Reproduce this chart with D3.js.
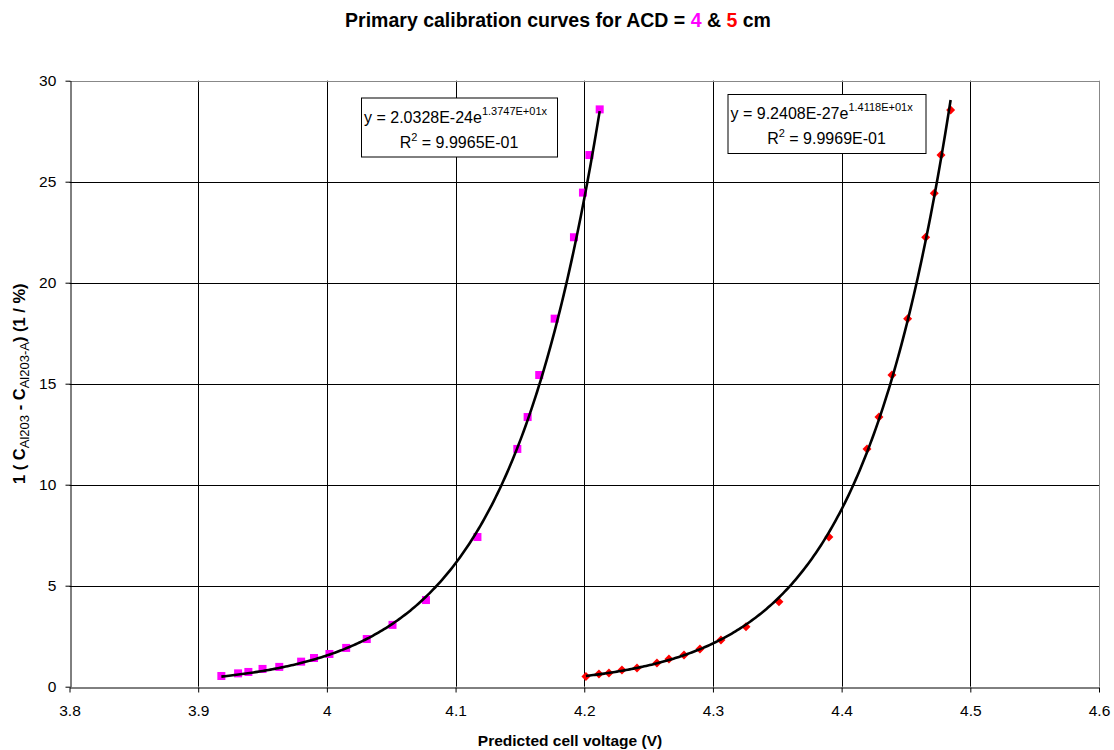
<!DOCTYPE html>
<html>
<head>
<meta charset="utf-8">
<script src="https://cdn.jsdelivr.net/npm/d3@7"></script>
<style>
  body { margin: 0; background: #fff; }
  svg { display: block; font-family: "Liberation Sans", Arial, sans-serif; }
</style>
</head>
<body>
<svg id="chart" width="1114" height="750"></svg>
<script>
// ---- Data ----
const acd4X = [3.918, 3.931, 3.939, 3.950, 3.963, 3.980, 3.990, 4.002, 4.015, 4.031, 4.051, 4.077, 4.117, 4.148, 4.156, 4.165, 4.177, 4.192, 4.199, 4.204, 4.212];
const acd4Y = [0.53, 0.66, 0.73, 0.88, 0.98, 1.24, 1.42, 1.62, 1.92, 2.36, 3.06, 4.29, 7.41, 11.77, 13.35, 15.43, 18.22, 22.25, 24.46, 26.32, 28.58];
const acd5X = [4.2013, 4.2114, 4.2192, 4.2293, 4.2410, 4.2565, 4.2658, 4.2775, 4.2899, 4.3062, 4.3257, 4.3513, 4.3901, 4.4197, 4.4290, 4.4391, 4.4513, 4.4653, 4.4720, 4.4772, 4.4847];
const acd5Y = [0.50, 0.63, 0.68, 0.83, 0.92, 1.17, 1.37, 1.57, 1.87, 2.31, 2.97, 4.21, 7.41, 11.77, 13.35, 15.43, 18.22, 22.25, 24.43, 26.32, 28.55];
// exponential trendline coefficients shown in the chart: y = a * e^(b x)
const fitA = [2.0328e-24, 9.2408e-27];
const fitB = [13.747, 14.118];
const fitEqBase = ["y = 2.0328E-24e", "y = 9.2408E-27e"];
const fitEqExp = ["1.3747E+01x", "1.4118E+01x"];
const fitR2 = ["9.9965E-01", "9.9969E-01"];
const xTicks = [3.8, 3.9, 4.0, 4.1, 4.2, 4.3, 4.4, 4.5, 4.6];
const yTicks = [0, 5, 10, 15, 20, 25, 30];

(function () {
// ---- Layout ----
const svg = d3.select("#chart");
const pL = 69.5, pR = 1099, pT = 80.7, pB = 686.7;
const x = d3.scaleLinear().domain([3.8, 4.6]).range([pL, pR]);
const y = d3.scaleLinear().domain([0, 30]).range([pB, pT]);

// gridlines
const grid = svg.append("g");
grid.selectAll("line.vg").data(xTicks.slice(1)).join("line")
  .attr("x1", d => Math.round(x(d)) + 0.5).attr("x2", d => Math.round(x(d)) + 0.5)
  .attr("y1", pT).attr("y2", pB)
  .attr("stroke", (d, i, n) => i === n.length - 1 ? "#888" : "#000").attr("stroke-width", 1);
grid.selectAll("line.hg").data(yTicks.slice(1)).join("line")
  .attr("y1", d => Math.round(y(d)) + 0.5).attr("y2", d => Math.round(y(d)) + 0.5)
  .attr("x1", pL).attr("x2", pR)
  .attr("stroke", (d, i, n) => i === n.length - 1 ? "#888" : "#000").attr("stroke-width", 1);

// axes
const fmtX = d => d3.format("~g")(d);
const xAxis = d3.axisBottom(x).tickValues(xTicks).tickFormat(fmtX).tickSize(5).tickSizeOuter(0);
const yAxis = d3.axisLeft(y).tickValues(yTicks).tickSize(5).tickSizeOuter(0);
const gx = svg.append("g").attr("transform", `translate(0,${Math.round(pB) + 0.5})`).call(xAxis);
const gy = svg.append("g").attr("transform", `translate(${Math.round(pL) + 0.5},0)`).call(yAxis);
[gx, gy].forEach(g => {
  g.select(".domain").attr("stroke", "#000");
  g.selectAll(".tick line").attr("stroke", "#000");
  g.selectAll("text").attr("font-size", 15.5).attr("fill", "#000")
    .attr("font-family", "'Liberation Sans Narrow', 'Liberation Sans', Arial, sans-serif");
});
gx.selectAll("text").attr("dy", "1.3em");
gy.selectAll("text").attr("dx", "-0.4em");

// markers
const pts4 = acd4X.map((v, i) => [v, acd4Y[i]]);
const pts5 = acd5X.map((v, i) => [v, acd5Y[i]]);
svg.append("g").selectAll("rect").data(pts4).join("rect")
  .attr("x", d => x(d[0]) - 4).attr("y", d => y(d[1]) - 4)
  .attr("width", 8).attr("height", 8).attr("fill", "#ff00ff");
svg.append("g").selectAll("path").data(pts5).join("path")
  .attr("transform", d => `translate(${x(d[0])},${y(d[1])})`)
  .attr("d", "M0,-4.5L4.5,0L0,4.5L-4.5,0Z").attr("fill", "#ff0000");

// trendlines
const xs = [acd4X, acd5X];
xs.forEach((arr, k) => {
  const x0 = d3.min(arr), x1 = d3.max(arr);
  const samples = d3.range(0, 201).map(i => x0 + (x1 - x0) * i / 200);
  const line = d3.line().x(d => x(d)).y(d => y(fitA[k] * Math.exp(fitB[k] * d)));
  svg.append("path").datum(samples).attr("d", line)
    .attr("fill", "none").attr("stroke", "#000").attr("stroke-width", 2.6);
});

// equation boxes
const boxes = [{x: 361, y: 97.5, w: 196, h: 59}, {x: 727.5, y: 94, w: 198, h: 59}];
boxes.forEach((b, k) => {
  const g = svg.append("g");
  g.append("rect").attr("x", b.x + 0.5).attr("y", b.y + 0.5).attr("width", b.w).attr("height", b.h)
    .attr("fill", "#fff").attr("stroke", "#000").attr("stroke-width", 1);
  const t1 = g.append("text").attr("x", b.x + 3).attr("y", b.y + 25).attr("font-size", 16).attr("fill", "#000");
  t1.append("tspan").text(fitEqBase[k]);
  t1.append("tspan").attr("dy", -8).attr("font-size", 11).text(fitEqExp[k]);
  const t2 = g.append("text").attr("x", b.x + b.w / 2).attr("y", b.y + 50).attr("font-size", 16)
    .attr("text-anchor", "middle").attr("fill", "#000");
  t2.append("tspan").text("R");
  t2.append("tspan").attr("dy", -7).attr("font-size", 11).text("2");
  t2.append("tspan").attr("dy", 7).text(" = " + fitR2[k]);
});

// title
const title = svg.append("text").attr("x", 558).attr("y", 27).attr("text-anchor", "middle")
  .attr("font-size", 19.5).attr("font-weight", "bold").attr("fill", "#000");
title.append("tspan").text("Primary calibration curves for ACD = ");
title.append("tspan").attr("fill", "#ff00ff").text("4");
title.append("tspan").text(" & ");
title.append("tspan").attr("fill", "#ff0000").text("5");
title.append("tspan").text(" cm");

// axis titles
svg.append("text").attr("x", 570).attr("y", 746).attr("text-anchor", "middle")
  .attr("font-size", 15.5).attr("font-weight", "bold").attr("fill", "#000")
  .text("Predicted cell voltage (V)");
const yt = svg.append("text").attr("transform", `translate(25,${(pT + pB) / 2}) rotate(-90)`)
  .attr("text-anchor", "middle").attr("font-size", 16.5).attr("font-weight", "bold").attr("fill", "#000");
yt.append("tspan").text("1 ( C");
yt.append("tspan").attr("dy", 4).attr("font-size", 13).attr("font-weight", "normal").text("Al203");
yt.append("tspan").attr("dy", -4).text(" - C");
yt.append("tspan").attr("dy", 4).attr("font-size", 13).attr("font-weight", "normal").text("Al203-A");
yt.append("tspan").attr("dy", -4).text(") (1 / %)");
})();
</script>
</body>
</html>
